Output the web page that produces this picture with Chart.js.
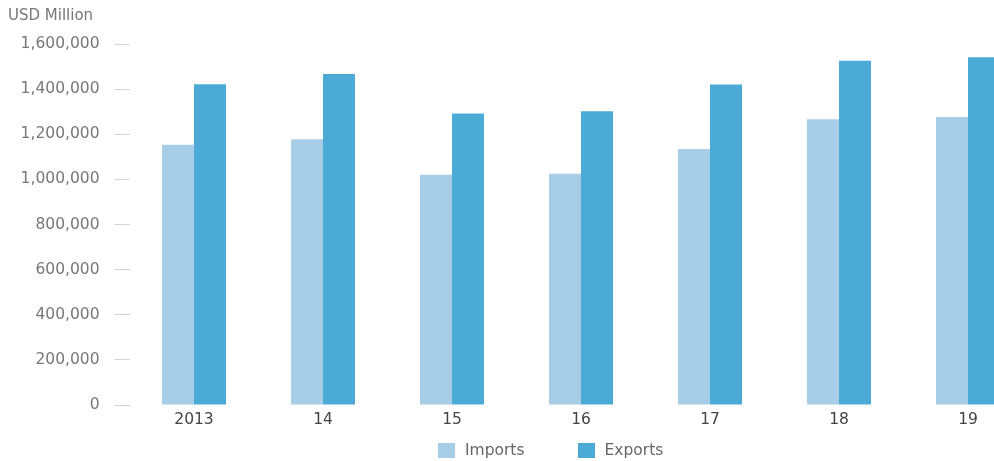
<!DOCTYPE html>
<html>
<head>
<meta charset="utf-8">
<script src="https://cdn.jsdelivr.net/npm/chart.js@4"></script>
<style>
  html, body { margin: 0; padding: 0; background: #fff; overflow: hidden; }
  #wrap { position: relative; width: 994px; height: 461px; overflow: hidden; }
  #legend { position: absolute; top: 441px; left: 438px; display: flex; font: 15.5px "DejaVu Sans", sans-serif; color: #666; }
  #legend .item { display: flex; align-items: center; margin-right: 53px; }
  #legend .box { width: 17px; height: 15px; margin-right: 10px; }
</style>
</head>
<body>
<div id="wrap">
  <canvas id="myChart" width="1060" height="461"></canvas>
  <div id="legend"></div>
</div>
<script>
const years = ['2013', '14', '15', '16', '17', '18', '19'];
const imports = [1154000, 1178000, 1021000, 1025000, 1135000, 1267000, 1277000];
const exports = [1422000, 1467000, 1292000, 1302000, 1421000, 1526000, 1541000];
const yTicks = [0, 200000, 400000, 600000, 800000, 1000000, 1200000, 1400000, 1600000];

const font = { family: '"DejaVu Sans", sans-serif', size: 15.5 };

const chart = new Chart(document.getElementById('myChart').getContext('2d'), {
  type: 'bar',
  data: {
    labels: years,
    datasets: [
      { label: 'Imports', data: imports, backgroundColor: '#a8cee7' },
      { label: 'Exports', data: exports, backgroundColor: '#4babd6' }
    ]
  },
  options: {
    responsive: false,
    animation: false,
    devicePixelRatio: 1,
    layout: { padding: { left: 8, right: 27.5, top: 0, bottom: 33.4 } },
    datasets: { bar: { barPercentage: 1, categoryPercentage: 64 / 129 } },
    plugins: {
      legend: { display: false },
      tooltip: { enabled: false },
      title: {
        display: true,
        text: 'USD Million',
        align: 'start',
        color: '#777',
        font: { family: font.family, size: 15, weight: 'normal' },
        padding: { top: 7, bottom: 19 }
      }
    },
    scales: {
      x: {
        grid: { display: false },
        border: { display: false },
        ticks: { color: '#444', font: font, padding: -2 }
      },
      y: {
        min: yTicks[0],
        max: yTicks[yTicks.length - 1],
        afterBuildTicks: (axis) => { axis.ticks = yTicks.map(v => ({ value: v })); },
        afterFit: (axis) => { axis.width = 121.5; },
        grid: { drawOnChartArea: false, drawTicks: true, tickLength: 15, color: '#d4d4d4' },
        border: { display: false },
        ticks: {
          color: '#777',
          font: font,
          padding: 15,
          callback: (v) => Number(v).toLocaleString('en-US')
        }
      }
    }
  }
});

// legend built from the chart's datasets
const legend = document.getElementById('legend');
chart.data.datasets.forEach(ds => {
  const item = document.createElement('div');
  item.className = 'item';
  const box = document.createElement('span');
  box.className = 'box';
  box.style.background = ds.backgroundColor;
  const txt = document.createElement('span');
  txt.textContent = ds.label;
  item.appendChild(box);
  item.appendChild(txt);
  legend.appendChild(item);
});
</script>
</body>
</html>
